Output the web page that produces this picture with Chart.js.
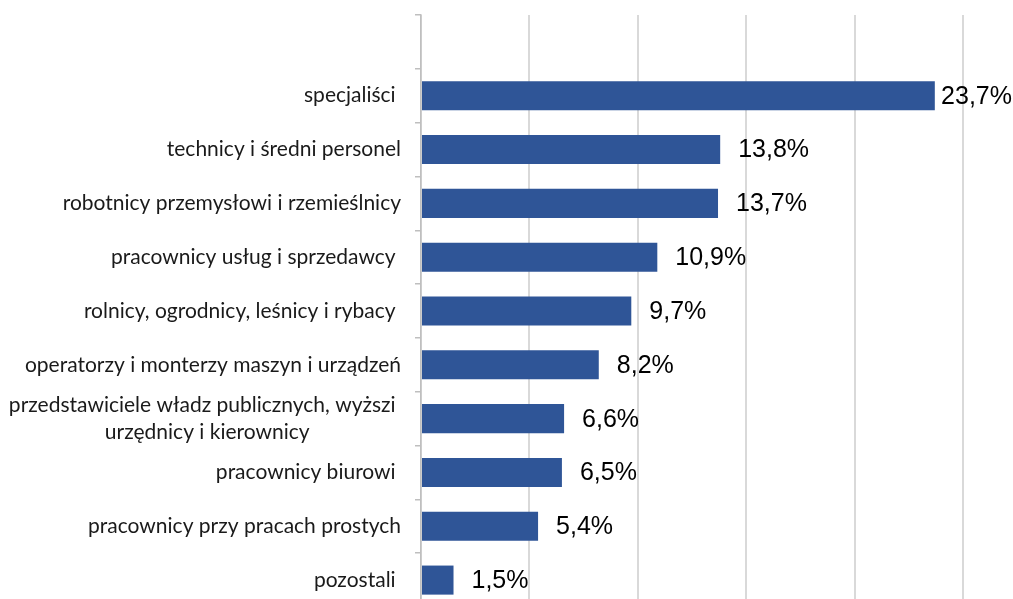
<!DOCTYPE html>
<html>
<head>
<meta charset="utf-8">
<script src="https://cdn.jsdelivr.net/npm/chart.js@4/dist/chart.umd.min.js"></script>
<style>
    body { margin: 0; background: #fff; overflow: hidden; }
    #wrap { width: 1013px; height: 607px; }
</style>
</head>
<body>
<div id="wrap"><canvas id="occChart" width="1013" height="607"></canvas></div>
<script>
// categories top to bottom (first slot is empty in the original)
const categories = [
    "",
    "specjaliści ",
    "technicy i średni personel",
    "robotnicy przemysłowi i rzemieślnicy",
    "pracownicy usług i sprzedawcy ",
    "rolnicy, ogrodnicy, leśnicy i rybacy ",
    "operatorzy i monterzy maszyn i urządzeń",
    ["przedstawiciele władz publicznych, wyższi ", "urzędnicy i kierownicy"],
    "pracownicy biurowi ",
    "pracownicy przy pracach prostych",
    "pozostali "
];
const shares = [null, 23.7, 13.8, 13.7, 10.9, 9.7, 8.2, 6.6, 6.5, 5.4, 1.5];
const shareLabels = ["", "23,7%", "13,8%", "13,7%", "10,9%", "9,7%", "8,2%", "6,6%", "6,5%", "5,4%", "1,5%"];

const labelFont = "21px Lato, 'Open Sans', sans-serif";

// pad the lines of a wrapped label so they look centred under right alignment
function centreLines(lines) {
    const c = document.createElement("canvas").getContext("2d");
    c.font = labelFont;
    const widths = lines.map(l => c.measureText(l).width);
    const maxW = Math.max(...widths);
    const sp = c.measureText(" ").width;
    return lines.map((l, i) => l + " ".repeat(Math.round((maxW - widths[i]) / 2 / sp)));
}
const yLabels = categories.map(l => Array.isArray(l) ? centreLines(l) : l);

// value labels at the end of each bar
const barLabels = {
    id: "barLabels",
    afterDatasetsDraw(chart) {
        const ctx = chart.ctx;
        const meta = chart.getDatasetMeta(0);
        ctx.save();
        ctx.font = "25px 'Liberation Sans', Arial, sans-serif";
        ctx.fillStyle = "#000";
        ctx.textBaseline = "middle";
        ctx.textAlign = "left";
        meta.data.forEach((bar, i) => {
            if (shares[i] == null) return;
            const txt = shareLabels[i];
            const w = ctx.measureText(txt).width;
            let x = bar.x + 18;
            if (x + w > chart.width - 1) x = chart.width - w - 1;
            ctx.fillText(txt, x, bar.y + 1);
        });
        ctx.restore();
    }
};

new Chart(document.getElementById("occChart").getContext("2d"), {
    type: "bar",
    data: {
        labels: yLabels,
        datasets: [{
            data: shares,
            backgroundColor: "#2f5597",
            categoryPercentage: 1,
            barPercentage: 0.54
        }]
    },
    options: {
        indexAxis: "y",
        responsive: false,
        animation: false,
        layout: { padding: { top: 15, right: 50, bottom: 0, left: 0 } },
        plugins: { legend: { display: false }, tooltip: { enabled: false } },
        scales: {
            x: {
                min: 0,
                max: 25,
                afterFit(scale) { scale.height = 0; },
                ticks: { display: false, stepSize: 5 },
                grid: { color: "#d9d9d9", lineWidth: 2, drawTicks: false },
                border: { display: false }
            },
            y: {
                offset: true,
                afterFit(scale) { scale.width = 421; scale.paddingTop = 0; scale.paddingBottom = 0; },
                ticks: {
                    autoSkip: false,
                    color: "#1a1a1a",
                    padding: 14,
                    font: { family: "Lato, 'Open Sans', sans-serif", size: 21, lineHeight: 1.3 }
                },
                grid: { offset: true, drawOnChartArea: false, tickLength: 6, color: "#bfbfbf", lineWidth: 1.5 },
                border: { color: "#bfbfbf", width: 1.5 }
            }
        }
    },
    plugins: [barLabels]
});
</script>
</body>
</html>
